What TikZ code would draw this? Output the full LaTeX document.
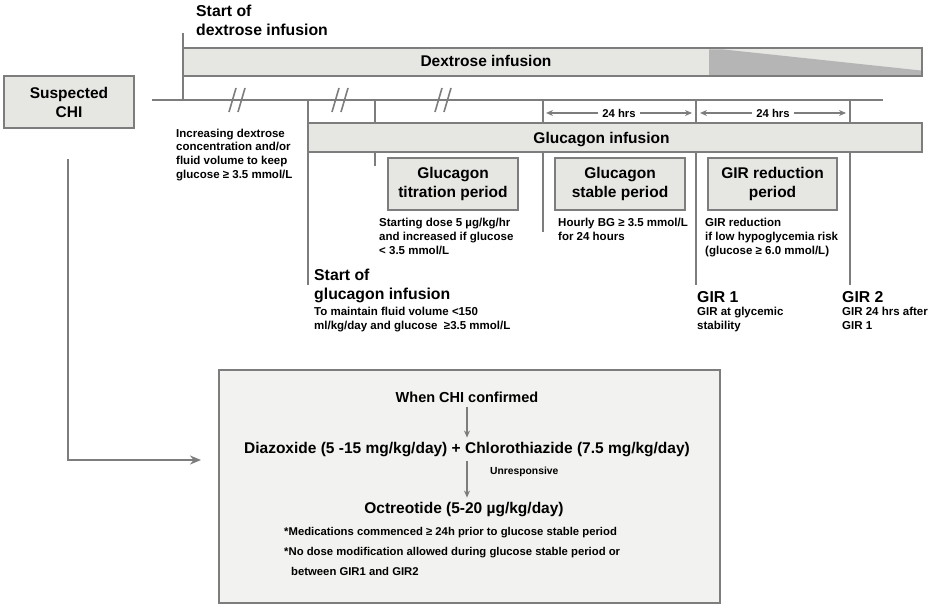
\documentclass[tikz,border=0pt]{standalone}
\usepackage{fontspec}
\setmainfont{Liberation Sans}
\usetikzlibrary{arrows.meta}
\definecolor{ln}{HTML}{7D7D7D}
\definecolor{bx}{HTML}{E6E6E3}
\definecolor{bx2}{HTML}{F2F2F0}
\definecolor{dk}{HTML}{B5B5B5}
\begin{document}
\begin{tikzpicture}[x=1pt,y=-1pt,
  every node/.style={inner sep=0pt, text=black},
  ln/.style={draw=ln, line width=2pt},
  thick ln/.style={draw=ln, line width=2.8pt},
  bar/.style={draw=ln, line width=2.2pt},
  pbox/.style={fill=bx, draw=ln, line width=2.4pt, align=center,
    font=\bfseries\fontsize{15.5}{19}\selectfont},
  big/.style={font=\bfseries\fontsize{15.8}{19}\selectfont, align=left, anchor=north west},
  small/.style={font=\bfseries\fontsize{11.5}{13.8}\selectfont, align=left, anchor=north west},
  hrs/.style={font=\bfseries\fontsize{11.3}{13}\selectfont, fill=white, inner xsep=4pt},
  arr/.style={draw=ln, line width=1.3pt, -{Stealth[length=7pt,width=6pt]}},
  darr/.style={draw=ln, line width=1.3pt, {Stealth[length=7pt,width=6pt]}-{Stealth[length=7pt,width=6pt]}},
  brk/.style={draw=ln, line width=1.6pt}
]
\useasboundingbox (0,0) rectangle (933,607);

% ---------- dextrose bar ----------
\fill[bx] (183,48) rectangle (922,76);
\fill[dk] (709,49.5) -- (724,49.5) -- (921,70.5) -- (921,75) -- (709,75) -- cycle;
\draw[bar] (183,48) rectangle (922,76);
\node[font=\bfseries\fontsize{15.5}{19}\selectfont, anchor=base] (dexlbl) at (486,67) {Dextrose infusion};

% ---------- glucagon bar ----------
\draw[bar, fill=bx] (308,123) rectangle (922,152);
\node[font=\bfseries\fontsize{15.5}{19}\selectfont, anchor=base] (glulbl) at (601.5,143) {Glucagon infusion};

% ---------- axis ----------
\coordinate (ax0) at (152,100);
\coordinate (ax1) at (883,100);
\draw[thick ln] (ax0) -- (ax1);

% start of dextrose
\coordinate (dx0) at (183,33);
\coordinate (dx1) at (183,100);
\draw[ln] (dx0) -- (dx1);

% breaks
\foreach \b in {237,340,443}{
  \draw[brk] (\b-8,112) -- (\b-1,88);
  \draw[brk] (\b+1,112) -- (\b+8,88);
}

% glucagon start vertical
\coordinate (g0) at (308,100);
\coordinate (g1) at (308,285);
\draw[ln] (g0) -- (g1);

% ticks
\foreach \x/\e in {375/166,543/232,696/285,850/285}{
  \draw[ln] (\x,100) -- (\x,123);
  \draw[ln] (\x,152) -- (\x,\e);
}

% 24 hrs arrows
\coordinate (h1a) at (546,113);
\coordinate (h1b) at (692,113);
\coordinate (h2a) at (700,113);
\coordinate (h2b) at (846,113);
\draw[darr] (h1a) -- (h1b) node[midway, hrs] (hrsA) {24 hrs};
\draw[darr] (h2a) -- (h2b) node[midway, hrs] (hrsB) {24 hrs};

% ---------- texts ----------
\node[big] (sdex) at (196,5) {Start of\\dextrose infusion};
\node[small] (incr) at (176,128.5) {Increasing dextrose\\concentration and/or\\fluid volume to keep\\glucose ≥ 3.5 mmol/L};
\node[small] (startd) at (379,218) {Starting dose 5 µg/kg/hr\\and increased if glucose\\< 3.5 mmol/L};
\node[big] (sglu) at (314,269) {Start of\\glucagon infusion};
\node[small] (maint) at (314,307) {To maintain fluid volume <150\\ml/kg/day and glucose \ ≥3.5 mmol/L};
\node[small] (hourly) at (558,218) {Hourly BG ≥ 3.5 mmol/L\\for 24 hours};
\node[small] (girred) at (705,218) {GIR reduction\\if low hypoglycemia risk\\(glucose ≥ 6.0 mmol/L)};
\node[big] (gir1) at (697,291) {GIR 1};
\node[small] (gir1t) at (697,307) {GIR at glycemic\\stability};
\node[big] (gir2) at (842,291) {GIR 2};
\node[small] (gir2t) at (842,307) {GIR 24 hrs after\\GIR 1};

% ---------- boxes ----------
\node[pbox, minimum width=130, minimum height=52] (chi) at (69,102) {Suspected\\CHI};
\node[pbox, minimum width=130, minimum height=52] (titr) at (453,184) {Glucagon\\titration period};
\node[pbox, minimum width=130, minimum height=52] (stab) at (620,184) {Glucagon\\stable period};
\node[pbox, minimum width=129, minimum height=52] (girp) at (772.5,184) {GIR reduction\\period};

% ---------- bottom box ----------
\node[fill=bx2, draw=ln, line width=2.6pt, minimum width=501, minimum height=233] (med) at (469.5,486.5) {};
\node[font=\bfseries\fontsize{14.5}{17}\selectfont, anchor=base] (when) at (467,402) {When CHI confirmed};
\node[font=\bfseries\fontsize{15.5}{19}\selectfont, anchor=base] (diaz) at (467,453) {Diazoxide (5 -15 mg/kg/day) + Chlorothiazide (7.5 mg/kg/day)};
\node[font=\bfseries\fontsize{10.3}{12}\selectfont, anchor=base west] (unresp) at (490,474) {Unresponsive};
\node[font=\bfseries\fontsize{15.5}{19}\selectfont, anchor=base] (octr) at (464,513) {Octreotide (5-20 µg/kg/day)};
\node[font=\bfseries\fontsize{11.3}{20}\selectfont, align=left, anchor=north west] (notes) at (284,527) {*Medications commenced ≥ 24h prior to glucose stable period\\*No dose modification allowed during glucose stable period or\\\hspace*{7pt}between GIR1 and GIR2};

\draw[arr] ([yshift=-5pt]when.south) -- ([yshift=4pt]diaz.north);
\draw[arr] ([yshift=-5pt]diaz.south) -- ([yshift=4pt]diaz.south |- octr.north);

% ---------- connector from suspected CHI ----------
\coordinate (c0) at (68,159);
\coordinate (c1) at (201,460);
\draw[ln, -{Stealth[length=11pt,width=9pt]}] (c0) |- (c1);

\end{tikzpicture}
\end{document}
